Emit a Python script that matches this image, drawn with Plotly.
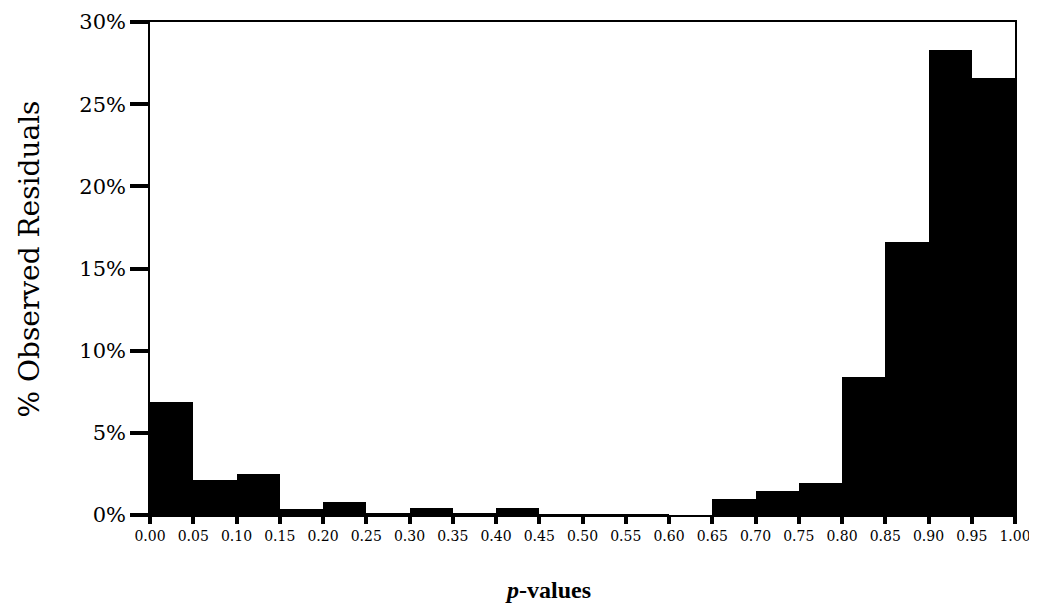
import plotly.graph_objects as go

bin_edges = [0.00, 0.05, 0.10, 0.15, 0.20, 0.25, 0.30, 0.35, 0.40, 0.45, 0.50,
             0.55, 0.60, 0.65, 0.70, 0.75, 0.80, 0.85, 0.90, 0.95, 1.00]
pct_residuals = [6.9, 2.1, 2.5, 0.35, 0.8, 0.1, 0.4, 0.1, 0.4, 0.05,
                 0.03, 0.03, 0.0, 1.0, 1.45, 1.95, 8.4, 16.6, 28.3, 26.6]
x_tick_labels = ["%.2f" % e for e in bin_edges]
y_tick_vals = [0, 5, 10, 15, 20, 25, 30]
y_tick_labels = ["%d%%" % v for v in y_tick_vals]

centers = [(a + b) / 2 for a, b in zip(bin_edges[:-1], bin_edges[1:])]
widths = [b - a for a, b in zip(bin_edges[:-1], bin_edges[1:])]

fig = go.Figure(go.Bar(
    x=centers, y=pct_residuals, width=widths,
    marker=dict(color="black", line=dict(width=0)),
    showlegend=False,
))

serif = "Liberation Serif, Times New Roman, serif"
wide = "DejaVu Serif, serif"
fig.update_layout(
    template="none",
    width=1037, height=611,
    margin=dict(l=142, r=30, t=14, b=104),
    paper_bgcolor="white", plot_bgcolor="white",
    bargap=0,
    font=dict(family=serif, color="black"),
    xaxis=dict(
        range=[0, 1], tickvals=bin_edges, ticktext=x_tick_labels,
        ticks="outside", ticklen=7, tickwidth=4, tickcolor="black",
        tickfont=dict(size=14, family=wide, color="black"),
        showline=True, linecolor="black", linewidth=2, mirror=True,
        showgrid=False, zeroline=False, automargin=False,
    ),
    yaxis=dict(
        range=[0, 30], tickvals=y_tick_vals, ticktext=y_tick_labels,
        ticks="outside", ticklen=18, tickwidth=4, tickcolor="black",
        tickfont=dict(size=21, family=wide, color="black"),
        showline=True, linecolor="black", linewidth=1.5, mirror=True,
        showgrid=False, zeroline=False, automargin=False,
    ),
    annotations=[
        dict(text="<b><i>p</i>-values</b>", xref="paper", yref="paper",
             x=0.46, y=-0.152, xanchor="center", yanchor="middle",
             showarrow=False, font=dict(size=24, family=serif, color="black")),
        dict(text="% Observed Residuals", xref="paper", yref="paper",
             x=-0.139, y=0.52, xanchor="center", yanchor="middle",
             textangle=-90, showarrow=False,
             font=dict(size=28, family=wide, color="black")),
    ],
)

fig.write_html("out.html")
